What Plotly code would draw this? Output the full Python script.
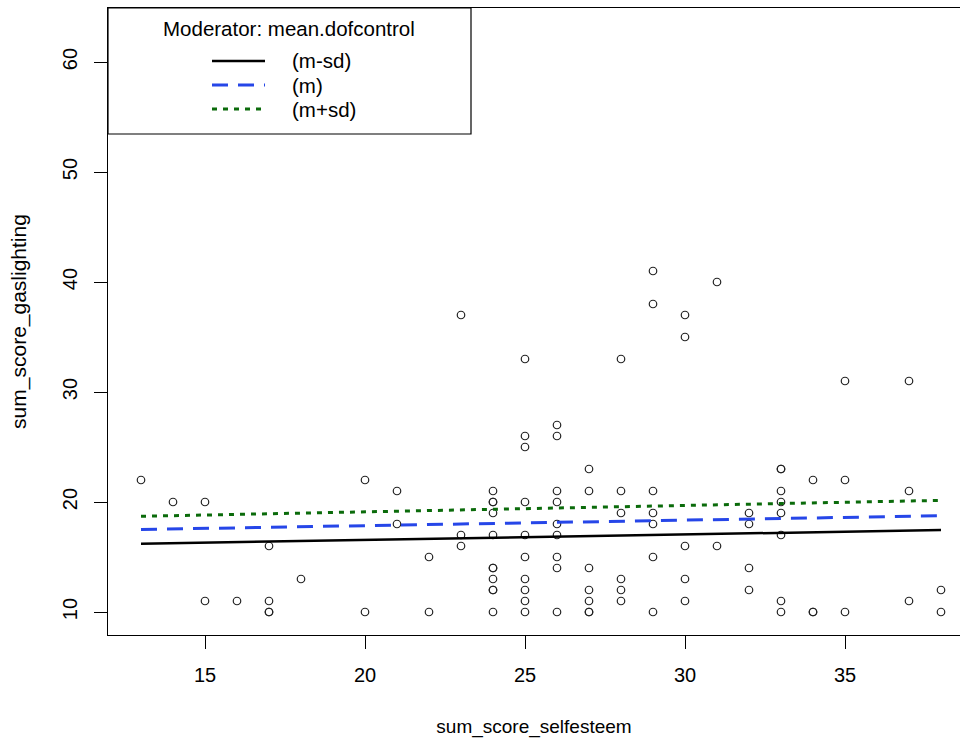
import plotly.graph_objects as go

# ---- data ----
selfesteem = [13, 14, 15, 15, 16, 17, 17, 17, 17, 18, 20, 20, 21, 21, 22, 22, 23, 23, 23,
              24, 24, 24, 24, 24, 24, 24, 24, 24, 24, 24,
              25, 25, 25, 25, 25, 25, 25, 25, 25, 25,
              26, 26, 26, 26, 26, 26, 26, 26, 26,
              27, 27, 27, 27, 27, 27, 27,
              28, 28, 28, 28, 28, 28,
              29, 29, 29, 29, 29, 29, 29,
              30, 30, 30, 30, 30,
              31, 31,
              32, 32, 32, 32,
              33, 33, 33, 33, 33, 33, 33, 33,
              34, 34, 34,
              35, 35, 35,
              37, 37, 37,
              38, 38]
gaslighting = [22, 20, 20, 11, 11, 16, 11, 10, 10, 13, 22, 10, 21, 18, 15, 10, 37, 17, 16,
               21, 20, 20, 19, 17, 14, 14, 13, 12, 12, 10,
               33, 26, 25, 20, 17, 15, 13, 12, 11, 10,
               27, 26, 21, 20, 18, 17, 15, 14, 10,
               23, 21, 14, 12, 11, 10, 10,
               33, 21, 19, 13, 12, 11,
               41, 38, 21, 19, 18, 15, 10,
               37, 35, 16, 13, 11,
               40, 16,
               19, 18, 14, 12,
               23, 23, 21, 20, 19, 17, 11, 10,
               22, 10, 10,
               31, 22, 10,
               31, 21, 11,
               12, 10]

line_x = [13, 38]
line_m_minus_sd = [16.2, 17.45]
line_m = [17.5, 18.75]
line_m_plus_sd = [18.7, 20.15]

series_names = ["(m-sd)", "(m)", "(m+sd)"]
series_vals = [line_m_minus_sd, line_m, line_m_plus_sd]
series_colors = ["#000000", "#2646E8", "#0B6B0B"]
series_dash = ["solid", "16px,10px", "5px,6px"]
series_width = [2.5, 3, 3]

x_ticks = [15, 20, 25, 30, 35]
y_ticks = [10, 20, 30, 40, 50, 60]

FONT = "Liberation Sans, Arial, sans-serif"

fig = go.Figure()
fig.add_trace(go.Scatter(
    x=selfesteem, y=gaslighting, mode="markers",
    marker=dict(symbol="circle-open", size=7.5, color="#222222", line=dict(width=1.2)),
    showlegend=False, hoverinfo="x+y"))

for name, vals, col, dash, w in zip(series_names, series_vals, series_colors, series_dash, series_width):
    fig.add_trace(go.Scatter(x=line_x, y=vals, mode="lines", name=name,
                             line=dict(color=col, dash=dash, width=w), showlegend=False))

# plot geometry in pixels
L, R, T, B = 108, 960, 8, 635
W, H = R - L, B - T


def px(x):
    return (x - L) / W


def py(y):
    return (B - y) / H


shapes = []
# legend box
shapes.append(dict(type="rect", xref="paper", yref="paper",
                   x0=px(108), x1=px(471), y0=py(134), y1=py(8),
                   line=dict(color="black", width=1.2), fillcolor="white", layer="above"))
annotations = [dict(text="Moderator: mean.dofcontrol", xref="paper", yref="paper",
                    x=px(289), y=py(28), xanchor="center", yanchor="middle", showarrow=False,
                    font=dict(size=20.5, color="black", family=FONT))]
rows = [61, 85, 109]
for name, col, dash, w, ry in zip(series_names, series_colors, series_dash, series_width, rows):
    shapes.append(dict(type="line", xref="paper", yref="paper",
                       x0=px(212), x1=px(265), y0=py(ry), y1=py(ry),
                       line=dict(color=col, dash=dash, width=w), layer="above"))
    annotations.append(dict(text=name, xref="paper", yref="paper", x=px(290), y=py(ry),
                            xanchor="left", yanchor="middle", showarrow=False,
                            font=dict(size=20.5, color="black", family=FONT)))

fig.update_layout(
    width=960, height=740,
    margin=dict(l=L, r=960 - R, t=T, b=740 - B, autoexpand=False),
    paper_bgcolor="white", plot_bgcolor="white",
    font=dict(family=FONT, size=20, color="black"),
    shapes=shapes, annotations=annotations,
    showlegend=False,
)
fig.update_xaxes(range=[13 - 33 / 32, 13 + 819 / 32], tickvals=x_ticks,
                 showgrid=False, zeroline=False, showline=True, mirror=True,
                 linecolor="black", linewidth=1.2, ticks="outside", ticklen=13,
                 tickcolor="black", tickwidth=1.2, ticklabelstandoff=9,
                 tickfont=dict(size=20),
                 title=dict(text="sum_score_selfesteem", standoff=34, font=dict(size=19)))
fig.update_yaxes(range=[10 - 23 / 11, 60 + 54 / 11], tickvals=y_ticks,
                 showgrid=False, zeroline=False, showline=True, mirror=False,
                 linecolor="black", linewidth=1.2, ticks="outside", ticklen=13,
                 tickcolor="black", tickwidth=1.2, tickangle=-90, ticklabelstandoff=9,
                 tickfont=dict(size=20),
                 title=dict(text="sum_score_gaslighting", standoff=26, font=dict(size=21)))

fig.write_html("out.html", config={"displayModeBar": False},
               post_script="document.body.style.margin='0';document.body.style.overflow='hidden';")
